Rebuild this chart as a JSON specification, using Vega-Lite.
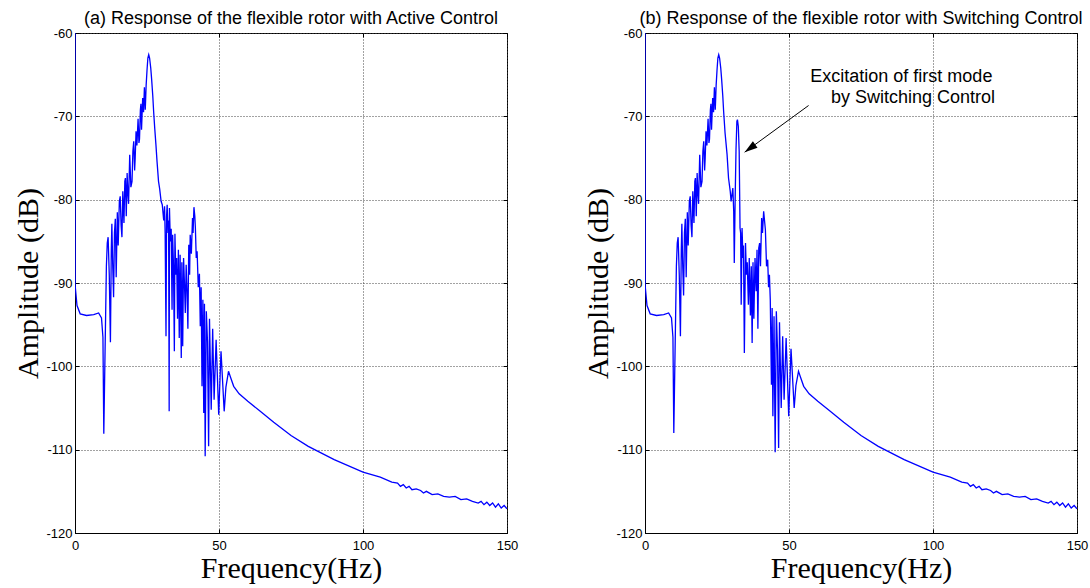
{
  "$schema": "https://vega.github.io/schema/vega-lite/v6.json",
  "background": "white",
  "padding": {"left": 12, "top": 9, "right": 0, "bottom": 0},
  "autosize": {"type": "pad"},
  "datasets": {
    "a": [
      {"f":0,"amp":-60},{"f":0.05,"amp":-90.3},{"f":0.7,"amp":-92.7},{"f":1.8,"amp":-93.7},{"f":4,"amp":-93.9},{"f":6.5,"amp":-93.8},{"f":8.2,"amp":-93.6},{"f":9.2,"amp":-94.2},{"f":9.7,"amp":-96.5},{"f":10.0,"amp":-108.1},{"f":10.4,"amp":-99},{"f":10.9,"amp":-88},{"f":11.2,"amp":-85.2},{"f":11.5,"amp":-84.5},{"f":11.9,"amp":-89},{"f":12.3,"amp":-97.1},{"f":12.6,"amp":-86},{"f":12.8,"amp":-82.9},{"f":13.1,"amp":-88},{"f":13.4,"amp":-91.7},{"f":13.7,"amp":-84},{"f":14.0,"amp":-82.3},{"f":14.3,"amp":-89.3},{"f":14.7,"amp":-81.5},{"f":15.0,"amp":-85.5},{"f":15.4,"amp":-80.2},{"f":15.7,"amp":-79.6},{"f":16.0,"amp":-83},{"f":16.3,"amp":-84.5},{"f":16.6,"amp":-79},{"f":17.0,"amp":-82.8},{"f":17.3,"amp":-77.8},{"f":17.5,"amp":-77.4},{"f":17.8,"amp":-82},{"f":18.1,"amp":-76.8},{"f":18.4,"amp":-79.5},{"f":18.6,"amp":-80.5},{"f":19.0,"amp":-74.6},{"f":19.4,"amp":-78.5},{"f":19.8,"amp":-77.8},{"f":20.1,"amp":-74.2},{"f":20.4,"amp":-73},{"f":20.7,"amp":-76.5},{"f":20.9,"amp":-75},{"f":21.2,"amp":-71.8},{"f":21.5,"amp":-73.5},{"f":21.9,"amp":-70.3},{"f":22.2,"amp":-73.2},{"f":22.4,"amp":-72.7},{"f":22.7,"amp":-69.2},{"f":22.9,"amp":-68.5},{"f":23.1,"amp":-71.6},{"f":23.5,"amp":-67.8},{"f":23.8,"amp":-69.5},{"f":24.1,"amp":-66.5},{"f":24.4,"amp":-69.2},{"f":24.7,"amp":-66.3},{"f":25.0,"amp":-64.5},{"f":25.3,"amp":-63.0},{"f":25.6,"amp":-62.6},{"f":25.9,"amp":-63.0},{"f":26.3,"amp":-64.2},{"f":26.6,"amp":-65.5},{"f":27.0,"amp":-67.5},{"f":27.3,"amp":-69.4},{"f":27.7,"amp":-71.5},{"f":28.1,"amp":-73.4},{"f":28.5,"amp":-75.5},{"f":29.0,"amp":-77.8},{"f":29.4,"amp":-78.7},{"f":29.9,"amp":-80.2},{"f":30.3,"amp":-80.6},{"f":30.8,"amp":-82.5},{"f":31.1,"amp":-80.8},{"f":31.3,"amp":-84},{"f":31.6,"amp":-96.4},{"f":31.8,"amp":-82},{"f":32.0,"amp":-80.6},{"f":32.3,"amp":-84},{"f":32.5,"amp":-82.5},{"f":32.7,"amp":-105.4},{"f":32.8,"amp":-81},{"f":33.1,"amp":-85},{"f":33.4,"amp":-83.5},{"f":33.7,"amp":-93.2},{"f":33.9,"amp":-84.2},{"f":34.2,"amp":-88},{"f":34.5,"amp":-98.2},{"f":34.7,"amp":-84.1},{"f":35.0,"amp":-89},{"f":35.3,"amp":-87},{"f":35.6,"amp":-94.3},{"f":35.9,"amp":-86},{"f":36.2,"amp":-96.6},{"f":36.5,"amp":-86.6},{"f":36.9,"amp":-99},{"f":37.1,"amp":-87.5},{"f":37.4,"amp":-97.6},{"f":37.7,"amp":-87},{"f":38.0,"amp":-90},{"f":38.3,"amp":-93.6},{"f":38.6,"amp":-87.8},{"f":38.9,"amp":-91},{"f":39.2,"amp":-95.5},{"f":39.5,"amp":-85.4},{"f":39.8,"amp":-89},{"f":40.0,"amp":-84.2},{"f":40.4,"amp":-86.5},{"f":40.8,"amp":-82.2},{"f":41.0,"amp":-84},{"f":41.3,"amp":-80.9},{"f":41.6,"amp":-82},{"f":41.8,"amp":-83.4},{"f":42.1,"amp":-87},{"f":42.4,"amp":-86.2},{"f":42.8,"amp":-90.5},{"f":43.2,"amp":-88.9},{"f":43.5,"amp":-95.2},{"f":43.8,"amp":-90.5},{"f":44.1,"amp":-102.4},{"f":44.4,"amp":-92},{"f":44.7,"amp":-105.6},{"f":44.95,"amp":-92.5},{"f":45.2,"amp":-110.8},{"f":45.6,"amp":-93.4},{"f":46.0,"amp":-97},{"f":46.4,"amp":-109.6},{"f":46.7,"amp":-94.3},{"f":47.3,"amp":-105.2},{"f":47.8,"amp":-95.5},{"f":48.3,"amp":-104},{"f":49.0,"amp":-96.8},{"f":49.9,"amp":-105.8},{"f":50.7,"amp":-98.2},{"f":51.8,"amp":-105.4},{"f":52.4,"amp":-102.5},{"f":53.3,"amp":-100.6},{"f":54.0,"amp":-101.3},{"f":55.1,"amp":-102.4},{"f":57,"amp":-103.3},{"f":60,"amp":-104.2},{"f":64,"amp":-105.3},{"f":69,"amp":-106.7},{"f":75,"amp":-108.3},{"f":81,"amp":-109.6},{"f":90,"amp":-111.2},{"f":100,"amp":-112.7},{"f":106,"amp":-113.3},{"f":110,"amp":-113.9},{"f":112,"amp":-114.0},{"f":113,"amp":-114.4},{"f":114,"amp":-114.2},{"f":115,"amp":-114.6},{"f":116,"amp":-114.4},{"f":117,"amp":-114.8},{"f":118.5,"amp":-114.7},{"f":120,"amp":-114.9},{"f":121,"amp":-115.2},{"f":122,"amp":-115.0},{"f":124,"amp":-115.4},{"f":126,"amp":-115.3},{"f":128,"amp":-115.6},{"f":130,"amp":-115.7},{"f":132,"amp":-115.6},{"f":134,"amp":-116.0},{"f":136,"amp":-115.9},{"f":138,"amp":-116.2},{"f":140,"amp":-116.4},{"f":141,"amp":-116.2},{"f":142,"amp":-116.6},{"f":143,"amp":-116.3},{"f":144,"amp":-116.7},{"f":145,"amp":-116.4},{"f":146,"amp":-116.9},{"f":147,"amp":-116.5},{"f":148,"amp":-117.0},{"f":149,"amp":-116.7},{"f":150,"amp":-117.1}
    ],
    "b": [
      {"f":0,"amp":-60},{"f":0.05,"amp":-90.3},{"f":0.7,"amp":-92.7},{"f":1.8,"amp":-93.7},{"f":4,"amp":-93.9},{"f":6.5,"amp":-93.8},{"f":8.2,"amp":-93.6},{"f":9.2,"amp":-94.2},{"f":9.7,"amp":-96.5},{"f":10.0,"amp":-108},{"f":10.4,"amp":-99},{"f":10.9,"amp":-88},{"f":11.2,"amp":-85.2},{"f":11.5,"amp":-84.5},{"f":11.9,"amp":-89},{"f":12.3,"amp":-96.4},{"f":12.6,"amp":-86},{"f":12.8,"amp":-82.9},{"f":13.1,"amp":-88},{"f":13.4,"amp":-91.5},{"f":13.7,"amp":-84},{"f":14.0,"amp":-82.3},{"f":14.3,"amp":-89.3},{"f":14.7,"amp":-81.5},{"f":15.0,"amp":-85.5},{"f":15.4,"amp":-80.2},{"f":15.7,"amp":-79.6},{"f":16.0,"amp":-83},{"f":16.3,"amp":-84.5},{"f":16.6,"amp":-79},{"f":17.0,"amp":-82.8},{"f":17.3,"amp":-77.8},{"f":17.5,"amp":-77.4},{"f":17.8,"amp":-82},{"f":18.1,"amp":-76.8},{"f":18.4,"amp":-79.5},{"f":18.6,"amp":-80.5},{"f":19.0,"amp":-74.6},{"f":19.4,"amp":-78.5},{"f":19.8,"amp":-77.8},{"f":20.1,"amp":-74.2},{"f":20.4,"amp":-73},{"f":20.7,"amp":-76.5},{"f":20.9,"amp":-75},{"f":21.2,"amp":-71.8},{"f":21.5,"amp":-73.5},{"f":21.9,"amp":-70.3},{"f":22.2,"amp":-73.2},{"f":22.4,"amp":-72.7},{"f":22.7,"amp":-69.2},{"f":22.9,"amp":-68.5},{"f":23.1,"amp":-71.6},{"f":23.5,"amp":-67.8},{"f":23.8,"amp":-69.5},{"f":24.1,"amp":-66.5},{"f":24.4,"amp":-69.2},{"f":24.7,"amp":-66.3},{"f":25.0,"amp":-64.5},{"f":25.3,"amp":-63.0},{"f":25.6,"amp":-62.6},{"f":25.9,"amp":-63.0},{"f":26.3,"amp":-64.2},{"f":26.6,"amp":-65.5},{"f":27.0,"amp":-67.5},{"f":27.3,"amp":-69.4},{"f":27.8,"amp":-72},{"f":28.5,"amp":-74.6},{"f":29.0,"amp":-77.4},{"f":29.6,"amp":-79.0},{"f":29.9,"amp":-80.2},{"f":30.5,"amp":-78.6},{"f":30.8,"amp":-81.4},{"f":31.0,"amp":-87.6},{"f":31.3,"amp":-80},{"f":31.6,"amp":-74},{"f":31.9,"amp":-70.6},{"f":32.1,"amp":-70.4},{"f":32.4,"amp":-71.2},{"f":32.7,"amp":-74.2},{"f":33.0,"amp":-83.4},{"f":33.2,"amp":-84},{"f":33.4,"amp":-92.6},{"f":33.7,"amp":-83.4},{"f":34.0,"amp":-87},{"f":34.2,"amp":-85.5},{"f":34.5,"amp":-98.4},{"f":34.9,"amp":-85.2},{"f":35.2,"amp":-89},{"f":35.5,"amp":-87.5},{"f":35.9,"amp":-92.6},{"f":36.2,"amp":-87},{"f":36.6,"amp":-93.9},{"f":36.9,"amp":-88},{"f":37.2,"amp":-97.2},{"f":37.5,"amp":-87.5},{"f":37.8,"amp":-94.3},{"f":38.2,"amp":-87},{"f":38.6,"amp":-91},{"f":38.9,"amp":-86},{"f":39.2,"amp":-95.5},{"f":39.5,"amp":-85.8},{"f":39.8,"amp":-85.2},{"f":40.1,"amp":-88},{"f":40.5,"amp":-82.2},{"f":40.8,"amp":-84},{"f":41.2,"amp":-81.4},{"f":41.5,"amp":-82.5},{"f":41.8,"amp":-83.6},{"f":42.2,"amp":-88},{"f":42.6,"amp":-87.2},{"f":42.9,"amp":-90.5},{"f":43.2,"amp":-89},{"f":43.5,"amp":-92},{"f":43.9,"amp":-102.2},{"f":44.15,"amp":-93},{"f":44.4,"amp":-106},{"f":44.8,"amp":-94},{"f":45.2,"amp":-110.3},{"f":45.6,"amp":-93.4},{"f":46.0,"amp":-98},{"f":46.4,"amp":-109.8},{"f":46.7,"amp":-94.7},{"f":47.3,"amp":-105},{"f":47.8,"amp":-96.4},{"f":48.3,"amp":-104},{"f":49.0,"amp":-96.6},{"f":49.9,"amp":-106},{"f":50.7,"amp":-97.9},{"f":51.8,"amp":-105},{"f":52.4,"amp":-102.3},{"f":53.3,"amp":-100.6},{"f":54.0,"amp":-101.3},{"f":55.1,"amp":-102.4},{"f":57,"amp":-103.3},{"f":60,"amp":-104.2},{"f":64,"amp":-105.3},{"f":69,"amp":-106.7},{"f":75,"amp":-108.3},{"f":81,"amp":-109.6},{"f":90,"amp":-111.2},{"f":100,"amp":-112.7},{"f":106,"amp":-113.3},{"f":110,"amp":-113.9},{"f":112,"amp":-114.0},{"f":113,"amp":-114.4},{"f":114,"amp":-114.2},{"f":115,"amp":-114.6},{"f":116,"amp":-114.4},{"f":117,"amp":-114.8},{"f":118.5,"amp":-114.7},{"f":120,"amp":-114.9},{"f":121,"amp":-115.2},{"f":122,"amp":-115.0},{"f":124,"amp":-115.4},{"f":126,"amp":-115.3},{"f":128,"amp":-115.6},{"f":130,"amp":-115.7},{"f":132,"amp":-115.6},{"f":134,"amp":-116.0},{"f":136,"amp":-115.9},{"f":138,"amp":-116.2},{"f":140,"amp":-116.4},{"f":141,"amp":-116.2},{"f":142,"amp":-116.6},{"f":143,"amp":-116.3},{"f":144,"amp":-116.7},{"f":145,"amp":-116.4},{"f":146,"amp":-116.9},{"f":147,"amp":-116.5},{"f":148,"amp":-117.0},{"f":149,"amp":-116.7},{"f":150,"amp":-117.1}
    ],
    "frame": [
      {"f": 0, "amp": -120},
      {"f": 150, "amp": -60}
    ],
    "note": [
      {"f": 57.4, "amp": -65.9, "label": "Excitation of first mode"},
      {"f": 64.6, "amp": -68.4, "label": "by Switching Control"}
    ],
    "arrow": [
      {"f": 56.8, "amp": -68.7, "f2": 34.6, "amp2": -74.3}
    ]
  },
  "spacing": 138,
  "bounds": "flush",
  "hconcat": [
    {
      "width": 432,
      "height": 500,
      "title": {"text": "(a) Response of the flexible rotor with Active Control"},
      "resolve": {"axis": {"x": "independent", "y": "independent"}},
      "layer": [
        {
          "data": {"name": "a"},
          "mark": {"type": "line", "color": "#0000ff", "strokeWidth": 1.3, "clip": true},
          "encoding": {
            "x": {"field": "f", "type": "quantitative", "scale": {"domain": [0, 150], "nice": false, "zero": false},
                  "axis": {"values": [0, 50, 100, 150], "title": "Frequency(Hz)"}},
            "y": {"field": "amp", "type": "quantitative", "scale": {"domain": [-120, -60], "nice": false, "zero": false},
                  "axis": {"values": [-120, -110, -100, -90, -80, -70, -60], "labelExpr": "datum.value + ''", "title": "Amplitude (dB)"}}
          }
        },
        {
          "data": {"name": "frame"},
          "mark": {"type": "point", "opacity": 0},
          "encoding": {
            "x": {"field": "f", "type": "quantitative",
                  "axis": {"orient": "top", "values": [0, 50, 100, 150], "labels": false, "title": null, "grid": false, "domain": false, "ticks": true}},
            "y": {"field": "amp", "type": "quantitative",
                  "axis": {"orient": "right", "values": [-120, -110, -100, -90, -80, -70, -60], "labels": false, "title": null, "grid": false, "domain": false, "ticks": true, "minExtent": 0, "maxExtent": 0}}
          }
        }
      ]
    },
    {
      "width": 432,
      "height": 500,
      "title": {"text": "(b) Response of the flexible rotor with Switching Control"},
      "resolve": {"axis": {"x": "independent", "y": "independent"}},
      "layer": [
        {
          "data": {"name": "b"},
          "mark": {"type": "line", "color": "#0000ff", "strokeWidth": 1.3, "clip": true},
          "encoding": {
            "x": {"field": "f", "type": "quantitative", "scale": {"domain": [0, 150], "nice": false, "zero": false},
                  "axis": {"values": [0, 50, 100, 150], "title": "Frequency(Hz)"}},
            "y": {"field": "amp", "type": "quantitative", "scale": {"domain": [-120, -60], "nice": false, "zero": false},
                  "axis": {"values": [-120, -110, -100, -90, -80, -70, -60], "labelExpr": "datum.value + ''", "title": "Amplitude (dB)"}}
          }
        },
        {
          "data": {"name": "frame"},
          "mark": {"type": "point", "opacity": 0},
          "encoding": {
            "x": {"field": "f", "type": "quantitative",
                  "axis": {"orient": "top", "values": [0, 50, 100, 150], "labels": false, "title": null, "grid": false, "domain": false, "ticks": true}},
            "y": {"field": "amp", "type": "quantitative",
                  "axis": {"orient": "right", "values": [-120, -110, -100, -90, -80, -70, -60], "labels": false, "title": null, "grid": false, "domain": false, "ticks": true, "minExtent": 0, "maxExtent": 0}}
          }
        },
        {
          "data": {"name": "arrow"},
          "mark": {"type": "rule", "color": "black", "strokeWidth": 1},
          "encoding": {
            "x": {"field": "f", "type": "quantitative", "axis": null},
            "y": {"field": "amp", "type": "quantitative", "axis": null},
            "x2": {"field": "f2"},
            "y2": {"field": "amp2"}
          }
        },
        {
          "data": {"name": "arrow"},
          "mark": {"type": "point", "shape": "M0,0L0.6,2L-0.6,2Z", "filled": true, "color": "black", "opacity": 1, "size": 170, "angle": 234, "strokeWidth": 0},
          "encoding": {
            "x": {"field": "f2", "type": "quantitative", "axis": null},
            "y": {"field": "amp2", "type": "quantitative", "axis": null}
          }
        },
        {
          "data": {"name": "note"},
          "mark": {"type": "text", "align": "left", "baseline": "alphabetic", "font": "Liberation Sans", "fontSize": 18, "color": "black"},
          "encoding": {
            "x": {"field": "f", "type": "quantitative", "axis": null},
            "y": {"field": "amp", "type": "quantitative", "axis": null},
            "text": {"field": "label"}
          }
        }
      ]
    }
  ],
  "config": {
    "view": {"stroke": "black", "strokeWidth": 1},
    "title": {"font": "Liberation Sans", "fontSize": 18, "fontWeight": "normal", "color": "black", "anchor": "middle", "frame": "group", "offset": -1},
    "axis": {
      "domainColor": "black",
      "ticks": true,
      "tickSize": -4,
      "tickColor": "black",
      "labelFont": "Liberation Sans",
      "labelFontSize": 13,
      "labelColor": "black",
      "labelFlush": false,
      "labelOverlap": false,
      "titleFont": "Liberation Serif",
      "titleFontSize": 30,
      "titleFontWeight": "normal",
      "titleColor": "black",
      "grid": true,
      "gridColor": "#444444",
      "gridDash": [1, 2],
      "gridOpacity": 1,
      "gridWidth": 1
    },
    "axisX": {"labelPadding": 10, "titlePadding": 1},
    "axisY": {"labelPadding": 7, "minExtent": 31, "maxExtent": 31, "titlePadding": 1}
  }
}
